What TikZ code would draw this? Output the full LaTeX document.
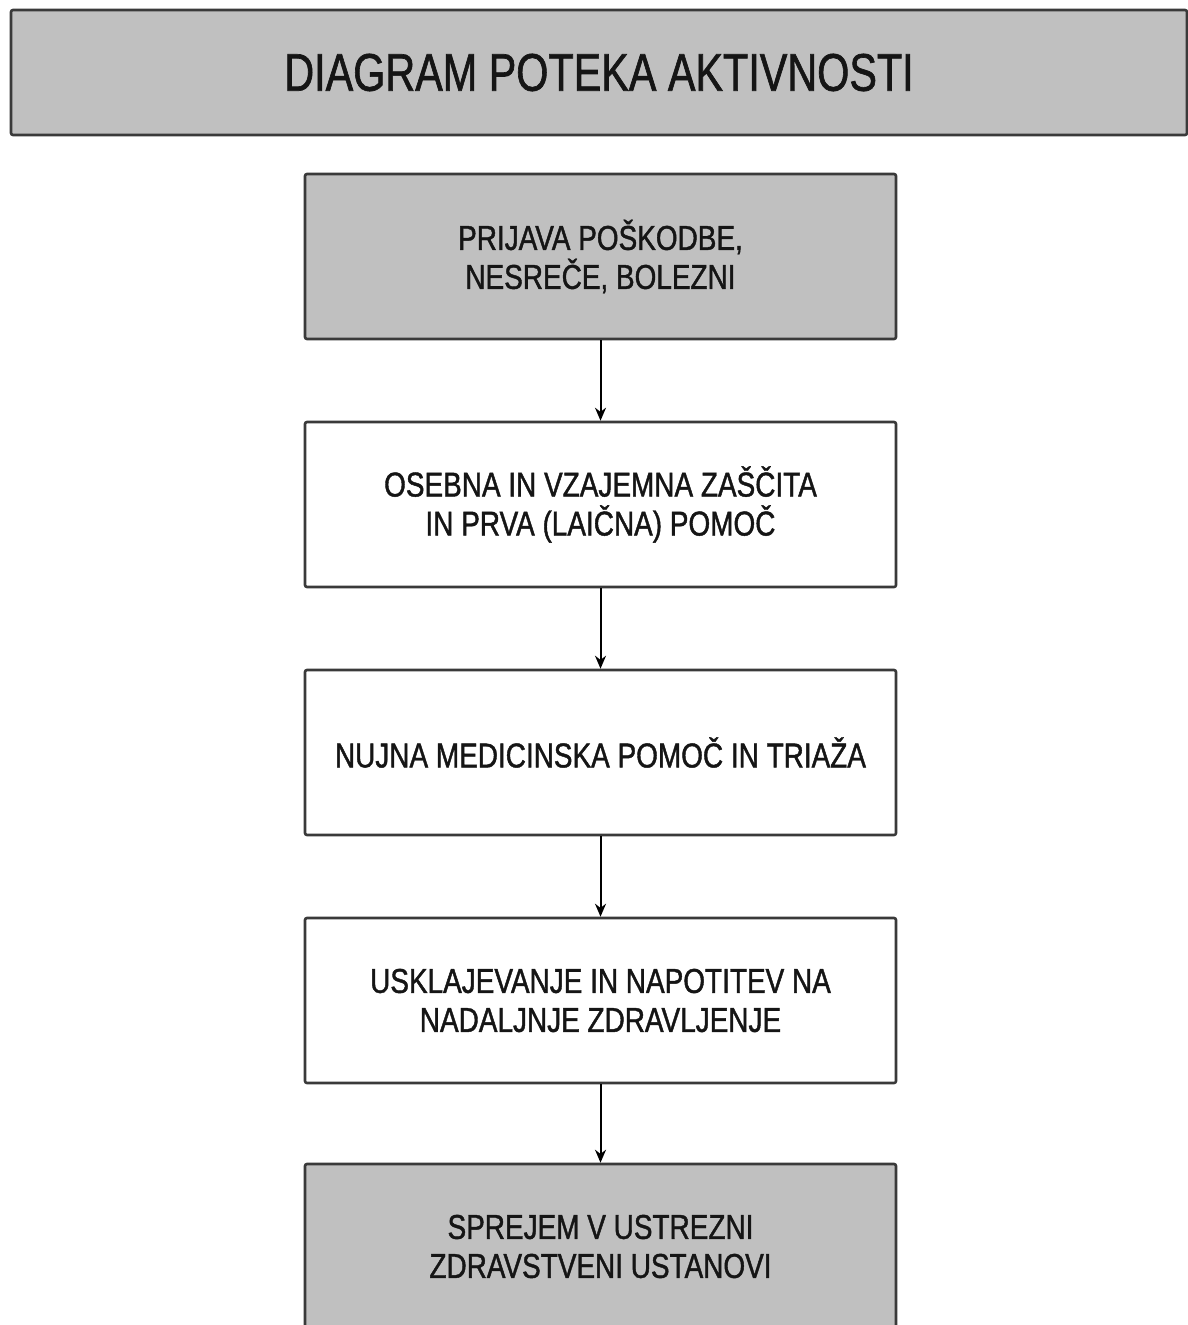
\documentclass[tikz,border=0pt]{standalone}
\usepackage{fontspec}
\setmainfont{Liberation Sans}
\newfontfamily\nfont[FakeStretch=0.81,FakeBold=1.2]{Liberation Sans}
\newfontfamily\tfont[FakeStretch=0.78,FakeBold=1.2]{Liberation Sans}
\usetikzlibrary{arrows.meta}
\definecolor{boxgray}{HTML}{C0C0C0}
\definecolor{edgegray}{HTML}{3A3A3A}
\definecolor{txt}{HTML}{151515}
\tikzset{
  flowbox/.style={draw=edgegray, line width=2.6pt, rounded corners=2pt, rectangle,
    minimum width=591pt, minimum height=165pt, inner sep=0pt, align=center,
    text=txt, font=\nfont\fontsize{34.5}{39}\selectfont},
  graybox/.style={flowbox, fill=boxgray},
  whitebox/.style={flowbox, fill=white},
  flowarrow/.style={draw=black, line width=2pt, -{Stealth[length=13pt,width=11pt]}}
}
\begin{document}
\begin{tikzpicture}[x=1pt,y=-1pt]
\useasboundingbox (0,0) rectangle (1188,1325);
\clip (0,0) rectangle (1188,1325);
\fill[white] (0,0) rectangle (1188,1325);
\node[draw=edgegray, line width=2.6pt, rounded corners=2pt, fill=boxgray,
  minimum width=1176pt, minimum height=125pt, inner sep=0pt, text=txt,
  font=\tfont\fontsize{53}{60}\selectfont] (title) at (599,72.5) {DIAGRAM POTEKA AKTIVNOSTI};
\node[graybox] (b1) at (600.5,256.5) {PRIJAVA POŠKODBE,\\NESREČE, BOLEZNI};
\node[whitebox] (b2) at (600.5,504.5) {OSEBNA IN VZAJEMNA ZAŠČITA\\IN PRVA (LAIČNA) POMOČ};
\node[whitebox] (b3) at (600.5,752.5) {NUJNA MEDICINSKA POMOČ IN TRIAŽA};
\node[whitebox] (b4) at (600.5,1000.5) {USKLAJEVANJE IN NAPOTITEV NA\\NADALJNJE ZDRAVLJENJE};
\node[graybox] (b5) at (600.5,1246.5) {SPREJEM V USTREZNI\\ZDRAVSTVENI USTANOVI};
\draw[flowarrow] (b1) -- (b2);
\draw[flowarrow] (b2) -- (b3);
\draw[flowarrow] (b3) -- (b4);
\draw[flowarrow] (b4) -- (b5);
\end{tikzpicture}
\end{document}
